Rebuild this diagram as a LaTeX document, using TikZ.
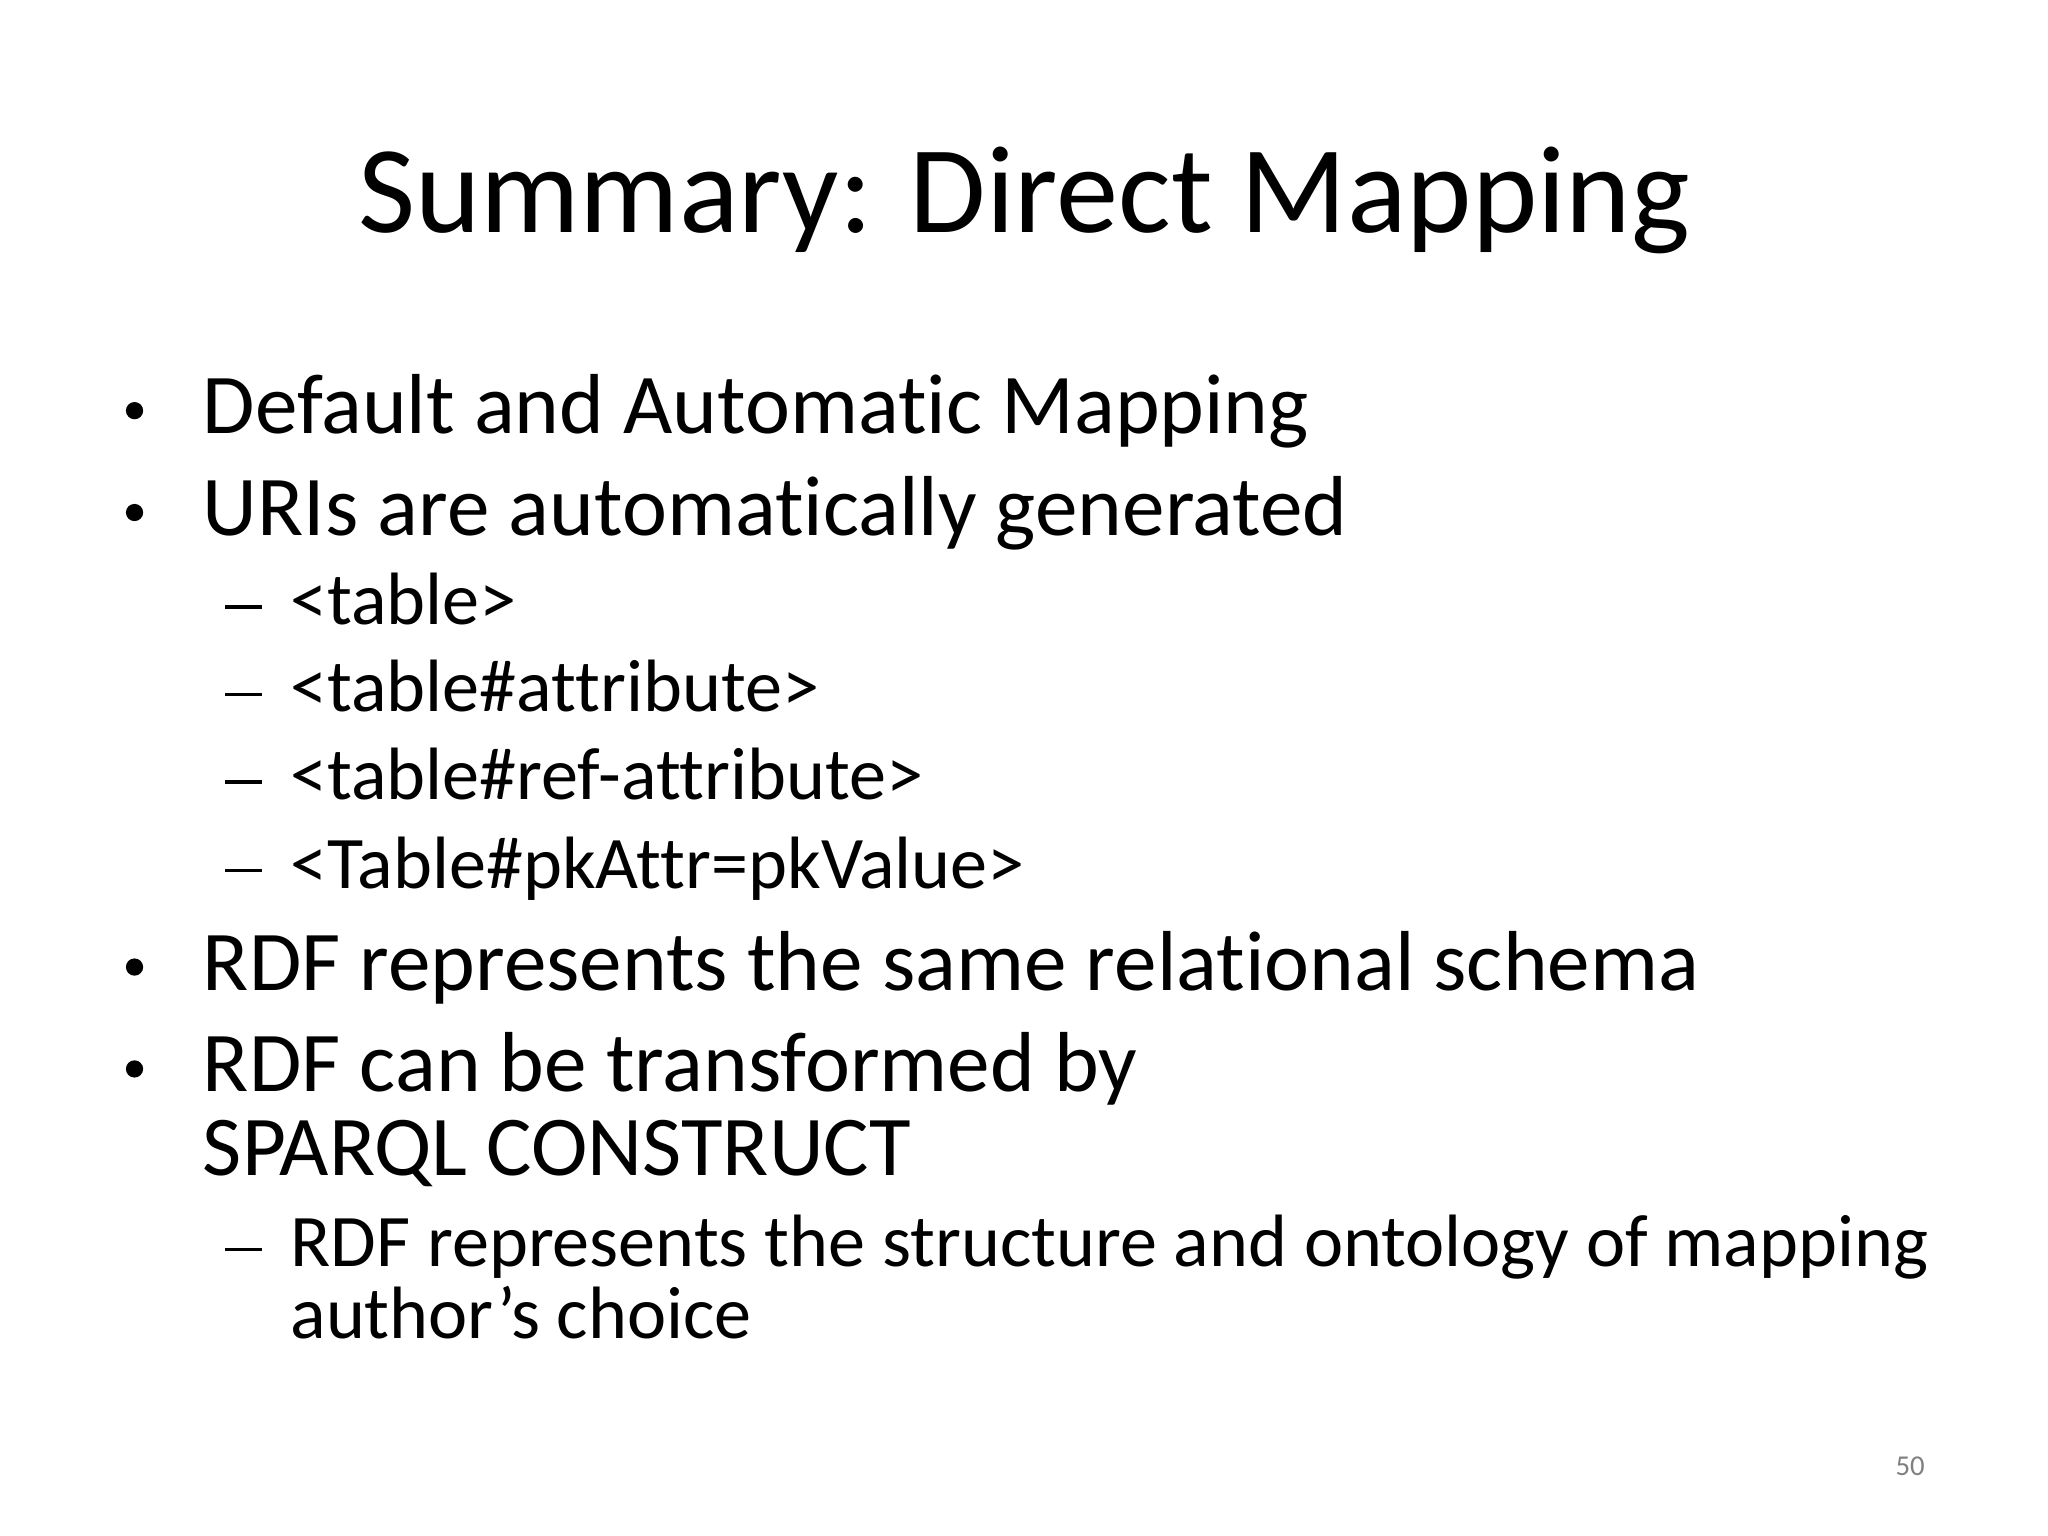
\documentclass[tikz,border=0pt]{standalone}
\usepackage{fontspec}
\setmainfont{Carlito}[RawFeature={-liga}]
\begin{document}
\begin{tikzpicture}[x=0.5pt,y=-0.5pt,
  lvA/.style={anchor=base west,font=\fontsize{32.6}{36}\selectfont,inner sep=0},
  lvB/.style={anchor=base west,font=\fontsize{28.4}{31}\selectfont,inner sep=0},
  mk/.style={anchor=base west,inner sep=0}]
\fill[white] (0,0) rectangle (1568,1176);
\node[anchor=base,font=\fontsize{47.6}{50}\selectfont,inner sep=0] (title) at (784,178) {Summary: Direct Mapping};
\foreach \y/\t [count=\i] in {332/Default and Automatic Mapping,410/URIs are automatically generated,758/RDF represents the same relational schema,836/RDF can be transformed by}{
  \node[mk] (b\i) at (96,\y) {\raisebox{5.5pt}{\tikz\fill (0,0) circle (3.3pt);}};
  \node[lvA] (t\i) at (155,\y) {\t};
}
\node[lvA] (t5) at (155,900) {SPARQL CONSTRUCT};
\foreach \y/\t [count=\i] in {478/{<table>},545/{<table\#attribute>},612/{<table\#ref-attribute>},680/{<Table\#pkAttr=pkValue>},970/{RDF represents the structure and ontology of mapping}}{
  \node[mk] (d\i) at (172,\y) {\rule[6pt]{14pt}{1.3pt}};
  \node[lvB] (s\i) at (222,\y) {\t};
}
\node[lvB] (s6) at (222,1025) {author’s choice};
\node[anchor=base east,font=\fontsize{11}{12}\selectfont,text=gray,inner sep=0] (pg) at (1474,1130) {50};
\end{tikzpicture}
\end{document}
